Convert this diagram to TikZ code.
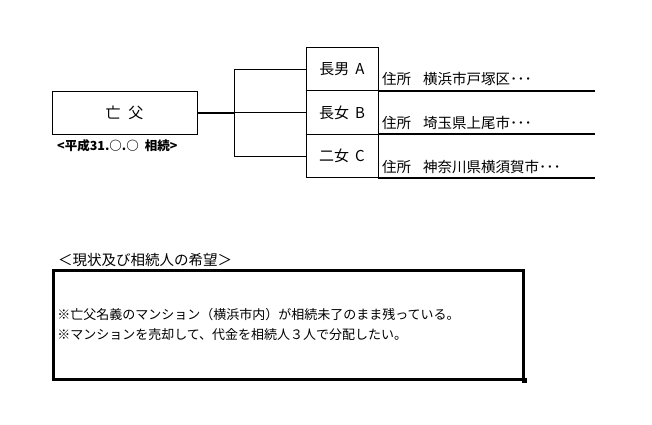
\documentclass[tikz,border=0pt]{standalone}
\usepackage{fontspec}
\setmainfont{Noto Sans CJK JP}
\usetikzlibrary{positioning}

\begin{document}
\begin{tikzpicture}[x=1pt,y=-1pt,
  link/.style={line width=0.8pt},
  rule/.style={line width=2.2pt},
  box/.style={draw,line width=0.8pt,inner sep=0pt,outer sep=0pt,font=\fontsize{15}{17}\selectfont},
  heir/.style={box,minimum width=72pt,minimum height=43.5pt},
  addr/.style={anchor=west,inner sep=0pt,font=\fontsize{14.5}{16}\selectfont}]
\useasboundingbox (0,0) rectangle (652,424);
% family tree
\node[box,minimum width=145pt,minimum height=43pt] (father) at (124.5,112.5) {亡\hspace{8pt}父};
\node[anchor=west,inner sep=0pt,font=\bfseries\fontsize{12.5}{14}\selectfont] (date) at (57,146) {<平成31.○.○\hspace{6pt}相続>};
\node[heir] (son) at (342,69) {長男\hspace{6pt}A};
\node[heir,below=0pt of son] (dau1) {長女\hspace{6pt}B};
\node[heir,below=0pt of dau1] (dau2) {二女\hspace{6pt}C};
\coordinate (fork) at (234,112.5);
\coordinate (edge) at (595,0);
\draw[line width=2pt] (father.east) -- (fork);
\draw[link] (fork) |- (son.west);
\draw[link] (fork) -- (dau1.west);
\draw[link] (fork) |- (dau2.west);
% addresses
\node[addr] (addr1) at (382,79) {住所\hspace{12pt}横浜市戸塚区･･･};
\node[addr] (addr2) at (382,123) {住所\hspace{12pt}埼玉県上尾市･･･};
\node[addr] (addr3) at (382,167) {住所\hspace{12pt}神奈川県横須賀市･･･};
\draw[rule] (son.south east) -- (son.south east -| edge);
\draw[rule] (dau1.south east) -- (dau1.south east -| edge);
\draw[rule] (dau2.south east) -- (dau2.south east -| edge);
% wishes
\node[anchor=west,inner sep=0pt,font=\fontsize{14.5}{16}\selectfont] (wishtitle) at (58,260) {＜現状及び相続人の希望＞};
\node[draw,line width=2.5pt,anchor=north west,minimum height=109pt,text width=462pt,inner xsep=4pt,align=left,font=\fontsize{13}{20}\selectfont] (wish) at (52,269)
  {※亡父名義のマンション（横浜市内）が相続未了のまま残っている。\\
   ※マンションを売却して、代金を相続人３人で分配したい。};
\node[fill,minimum size=5pt,inner sep=0pt] (handle) at (wish.south east) {};
\end{tikzpicture}
\end{document}
